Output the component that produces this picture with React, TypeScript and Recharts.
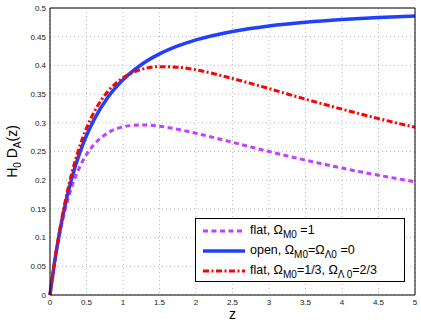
import { ComposedChart, Line, XAxis, YAxis, CartesianGrid, Legend } from 'recharts';

// redshift samples
const zValues = [0, 0.05, 0.1, 0.2, 0.3, 0.4, 0.5, 0.6, 0.8, 1, 1.25, 1.5, 1.75, 2, 2.5, 3, 3.5, 4, 4.5, 5];
// H0 * D_A(z)
const flatMatter = [0, 0.0459, 0.0846, 0.1452, 0.1891, 0.2211, 0.2447, 0.2618, 0.2829, 0.2929, 0.2963, 0.294, 0.2887, 0.2817, 0.266, 0.25, 0.2349, 0.2211, 0.2086, 0.1973];
const openEmpty = [0, 0.0465, 0.0868, 0.1528, 0.2041, 0.2449, 0.2778, 0.3047, 0.3457, 0.375, 0.4012, 0.42, 0.4339, 0.4444, 0.4592, 0.4688, 0.4753, 0.48, 0.4835, 0.4861];
const flatLambda = [0, 0.047, 0.0886, 0.1581, 0.213, 0.2564, 0.2907, 0.3178, 0.3557, 0.3784, 0.3929, 0.3978, 0.3968, 0.3922, 0.3771, 0.3596, 0.3411, 0.3238, 0.3073, 0.2922];

const xTicks = [0, 0.5, 1, 1.5, 2, 2.5, 3, 3.5, 4, 4.5, 5];
const yTicks = [0, 0.05, 0.1, 0.15, 0.2, 0.25, 0.3, 0.35, 0.4, 0.45, 0.5];

const data = zValues.map((z, i) => ({
    z,
    flatMatter: flatMatter[i],
    openEmpty: openEmpty[i],
    flatLambda: flatLambda[i],
}));

const FONT = '"Liberation Sans", Arial, Helvetica, sans-serif';
const PURPLE = '#bf40ff';
const BLUE = '#2040ff';
const RED = '#ff0000';

const tickStyle = { fontSize: 8, fill: '#222', fontFamily: FONT };

const YTitle = ({ viewBox }: any) => {
    const cx = viewBox.x + 17;
    const cy = viewBox.y + viewBox.height / 2;
    return (
        <text
            x={cx}
            y={cy}
            textAnchor='middle'
            transform={`rotate(-90, ${cx}, ${cy})`}
            fontSize={14}
            fontFamily={FONT}
            fill='#000'
        >
            H
            <tspan fontSize={10} dy={4}>0</tspan>
            <tspan dy={-4}> D</tspan>
            <tspan fontSize={10} dy={4}>A</tspan>
            <tspan dy={-4}>(z)</tspan>
        </text>
    );
};

const XTitle = ({ viewBox }: any) => (
    <text
        x={viewBox.x + viewBox.width / 2}
        y={viewBox.y + 24}
        textAnchor='middle'
        fontSize={14}
        fontFamily={FONT}
        fill='#000'
    >
        z
    </text>
);

const subStyle = { fontSize: 10, position: 'relative' as const, top: 4 };

const legendRows = [
    {
        key: 'flatMatter',
        color: PURPLE,
        dash: '5 3.5',
        width: 3,
        text: (
            <>
                flat, Ω<span style={subStyle}>M0</span> =1
            </>
        ),
    },
    {
        key: 'openEmpty',
        color: BLUE,
        dash: undefined,
        width: 3.5,
        text: (
            <>
                open, Ω<span style={subStyle}>M0</span>=Ω<span style={subStyle}>Λ0</span> =0
            </>
        ),
    },
    {
        key: 'flatLambda',
        color: RED,
        dash: '6 2.5 2 2.5',
        width: 3,
        text: (
            <>
                flat, Ω<span style={subStyle}>M0</span>=1/3, Ω<span style={subStyle}>Λ 0</span>=2/3
            </>
        ),
    },
];

const LegendBox = () => (
    <div
        style={{
            border: '1px solid #000',
            background: '#fff',
            boxSizing: 'border-box',
            width: 210,
            height: 64,
            padding: '2px 0 0 7px',
            fontFamily: FONT,
            fontSize: 12.5,
            color: '#000',
        }}
    >
        {legendRows.map((row) => (
            <div key={row.key} style={{ display: 'flex', alignItems: 'center', height: 20, lineHeight: '14px' }}>
                <svg width={42} height={8} style={{ marginRight: 5, flex: 'none' }}>
                    <line
                        x1={0}
                        y1={4}
                        x2={42}
                        y2={4}
                        stroke={row.color}
                        strokeWidth={row.width}
                        strokeDasharray={row.dash}
                    />
                </svg>
                <span style={{ whiteSpace: 'nowrap', marginTop: -1 }}>{row.text}</span>
            </div>
        ))}
    </div>
);

const App = () => {
    return (
        <div>
            <style>{'body{margin:0;}'}</style>
            <ComposedChart width={421} height={327} data={data} margin={{ top: 8, right: 6, bottom: 0, left: 0 }}>
                <CartesianGrid stroke='#b8b8b8' strokeDasharray='1 3' />
                <XAxis
                    dataKey='z'
                    type='number'
                    domain={[0, 5]}
                    ticks={xTicks}
                    height={32}
                    tickLine={false}
                    tickSize={0}
                    tickMargin={4}
                    tick={tickStyle}
                    axisLine={{ stroke: '#000', strokeWidth: 1 }}
                    label={<XTitle />}
                />
                <XAxis
                    xAxisId='bottomTicks'
                    type='number'
                    domain={[0, 5]}
                    ticks={xTicks}
                    orientation='bottom'
                    mirror
                    tick={false}
                    axisLine={false}
                    tickSize={4}
                    tickLine={{ stroke: '#000' }}
                />
                <XAxis
                    xAxisId='top'
                    type='number'
                    domain={[0, 5]}
                    ticks={xTicks}
                    orientation='top'
                    mirror
                    tick={false}
                    tickSize={4}
                    tickLine={{ stroke: '#000' }}
                    axisLine={{ stroke: '#000', strokeWidth: 1 }}
                />
                <YAxis
                    type='number'
                    domain={[0, 0.5]}
                    ticks={yTicks}
                    width={50}
                    tickLine={false}
                    tickSize={0}
                    tickMargin={4}
                    tick={tickStyle}
                    axisLine={{ stroke: '#000', strokeWidth: 1 }}
                    label={<YTitle />}
                />
                <YAxis
                    yAxisId='leftTicks'
                    type='number'
                    domain={[0, 0.5]}
                    ticks={yTicks}
                    orientation='left'
                    mirror
                    tick={false}
                    axisLine={false}
                    tickSize={4}
                    tickLine={{ stroke: '#000' }}
                />
                <YAxis
                    yAxisId='right'
                    type='number'
                    domain={[0, 0.5]}
                    ticks={yTicks}
                    orientation='right'
                    mirror
                    tick={false}
                    tickSize={4}
                    tickLine={{ stroke: '#000' }}
                    axisLine={{ stroke: '#000', strokeWidth: 1 }}
                />
                <Legend
                    layout='horizontal'
                    verticalAlign='middle'
                    align='center'
                    content={<LegendBox />}
                    wrapperStyle={{ left: 195, top: 218, width: 210, height: 64 }}
                />
                <Line
                    dataKey='flatMatter'
                    type='monotone'
                    stroke={PURPLE}
                    strokeWidth={3}
                    strokeDasharray='5 3.5'
                    dot={false}
                    isAnimationActive={false}
                />
                <Line
                    dataKey='openEmpty'
                    type='monotone'
                    stroke={BLUE}
                    strokeWidth={3.5}
                    dot={false}
                    isAnimationActive={false}
                />
                <Line
                    dataKey='flatLambda'
                    type='monotone'
                    stroke={RED}
                    strokeWidth={3}
                    strokeDasharray='6 2.5 2 2.5'
                    dot={false}
                    isAnimationActive={false}
                />
            </ComposedChart>
        </div>
    );
};

export default App;
